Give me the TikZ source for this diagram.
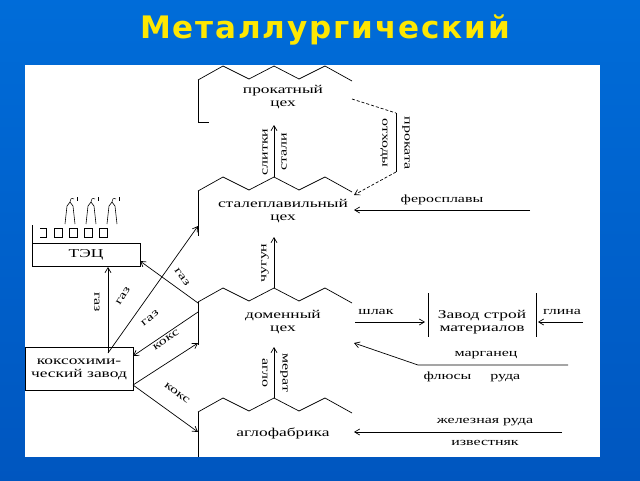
\documentclass[tikz,border=0pt]{standalone}
\usepackage{fontspec}
\setmainfont{Liberation Serif}[FakeStretch=1.45]
\newfontfamily\titlefont{DejaVu Sans}[LetterSpace=6]
\usetikzlibrary{arrows.meta}
\begin{document}
\begin{tikzpicture}[x=1pt,y=-1pt,
  ln/.style={line width=0.7pt,black},
  ar/.style={ln,-{Straight Barb[length=5pt,width=6pt]}},
  lb/.style={font=\fontsize{11}{12}\selectfont,inner sep=0.5pt},
  tx/.style={font=\fontsize{12}{13}\selectfont,align=center,inner sep=1pt}]
\useasboundingbox (0,0) rectangle (640,480);
\shade[top color=blue!50!cyan!85!black,bottom color=blue!55!cyan!75!black] (0,0) rectangle (640,480);
\fill[white] (25,65) rectangle (600,457);
\node[font=\titlefont\bfseries\fontsize{31}{32}\selectfont,text=yellow!90!orange] (title) at (325,30) {Металлургический};
% shops
\foreach \n/\t in {rol/66,stl/177,blf/288,agl/398}{
  \draw[ln] (198,\t+14) -- (223,\t) -- (249,\t+13) -- (274,\t) -- (299,\t+13) -- (325,\t) -- (352,\t+15);
  \coordinate (\n p) at (274,\t);
}
\draw[ln] (198,80) -- (198,122) -- (209,122);
\draw[ln] (198,191) -- (198,236);
\draw[ln] (198,302) -- (198,345);
\draw[ln] (198,412) -- (198,457);
\node[tx] (rol) at (283,97) {прокатный\\цех};
\node[tx] (stl) at (283,211) {сталеплавильный\\цех};
\node[tx] (blf) at (283,322) {доменный\\цех};
\node[tx] (agl) at (283,433) {аглофабрика};
\coordinate (rolb) at (274,125);
\coordinate (stlb) at (274,237);
\coordinate (blfb) at (274,347);
\draw[ar] (stlp) -- (rolb);
\draw[ar] (blfp) -- (stlb);
\draw[ar] (aglp) -- (blfb);
\node[lb,rotate=90] (l1) at (265,152) {слитки};
\node[lb,rotate=90] (l2) at (284,152) {стали};
\node[lb,rotate=90] (l3) at (265,263) {чугун};
\node[lb,rotate=-90] (l4) at (265,373) {агло};
\node[lb,rotate=-90] (l5) at (284,373) {мерат};
% waste
\coordinate (w1) at (352,99); \coordinate (w2) at (396,113);
\coordinate (w3) at (396,172); \coordinate (w4) at (354,195);
\draw[ln,densely dashed] (w1) -- (w2);
\draw[ln] (w2) -- (w3);
\draw[ln,densely dashed,-{Straight Barb[length=5pt,width=6pt]}] (w3) -- (w4);
\node[lb,rotate=-90] (l6) at (384,143) {отходы};
\node[lb,rotate=-90] (l7) at (406,143) {проката};
% ferro
\coordinate (f1) at (530,210); \coordinate (f2) at (354,210);
\draw[ar] (f1) -- (f2);
\node[lb] (l8) at (442,200) {феросплавы};
% building materials
\coordinate (s1) at (355,322); \coordinate (s2) at (425,322);
\draw[ar] (s1) -- (s2);
\node[lb] (l9) at (376,312) {шлак};
\draw[ln] (428,293) -- (428,337);
\draw[ln] (536,293) -- (536,337);
\node[tx] (zsm) at (482,322) {Завод строй\\материалов};
\coordinate (g1) at (583,322); \coordinate (g2) at (538,322);
\draw[ar] (g1) -- (g2);
\node[lb] (l10) at (562,312) {глина};
% manganese
\coordinate (m1) at (568,365); \coordinate (m2) at (418,365); \coordinate (m3) at (354,343);
\draw[ar] (m1) -- (m2) -- (m3);
\node[lb] (l11) at (486,355) {марганец};
\node[lb] (l12) at (472,377) {флюсы\quad\ \ руда};
% iron ore
\coordinate (i1) at (562,432); \coordinate (i2) at (354,432);
\draw[ar] (i1) -- (i2);
\node[lb] (l13) at (485,422) {железная руда};
\node[lb] (l14) at (485,443) {известняк};
% TEC
\draw[ln] (32,225) -- (32,266) -- (140,266) -- (140,243) -- (32,243);
\node[tx] (tec) at (86,255) {ТЭЦ};
\foreach \x in {58,73,88,103}{\draw[line width=0.6pt] (\x-4,228) rectangle (\x+4,237);}
\draw[line width=0.6pt] (40,228) -- (46,228) -- (46,237) -- (40,237);
\foreach \x in {65,86,107}{
  \draw[line width=0.6pt] (\x,224) -- (\x+2,206) -- (\x+5,202) -- (\x+8,206) -- (\x+10,224);
  \draw[line width=0.5pt] (\x+5,202) .. controls (\x+6,198) .. (\x+9,199);
  \draw[line width=0.5pt] (\x+12,197) -- (\x+12,201);
}
% coke plant
\draw[ln] (25,347) rectangle (133,390);
\node[tx] (kok) at (79,369) {коксохими-\\ческий завод};
\coordinate (k1) at (108,353);
\coordinate (tecb) at (108,267);
\coordinate (tecr) at (140,261);
\coordinate (stll) at (198,226);
\coordinate (blf1) at (198,303);
\coordinate (blf2) at (198,312);
\coordinate (blf3) at (198,343);
\coordinate (kokr1) at (133,356);
\coordinate (kokr2) at (133,385);
\coordinate (aglL) at (198,432);
\draw[ar] (k1) -- (tecb);
\draw[ar] (k1) -- (stll);
\draw[ar] (blf1) -- (tecr);
\draw[ar] (blf2) -- (kokr1);
\draw[ar] (kokr2) -- (blf3);
\draw[ar] (kokr2) -- (aglL);
\node[lb,rotate=-90] (g1l) at (97,302) {газ};
\node[lb,rotate=58] (g2l) at (123,296) {газ};
\node[lb,rotate=-55] (g3l) at (182,277) {газ};
\node[lb,rotate=38] (g4l) at (150,318) {газ};
\node[lb,rotate=33] (k1l) at (166,340) {кокс};
\node[lb,rotate=-37] (k2l) at (177,393) {кокс};
\end{tikzpicture}
\end{document}
